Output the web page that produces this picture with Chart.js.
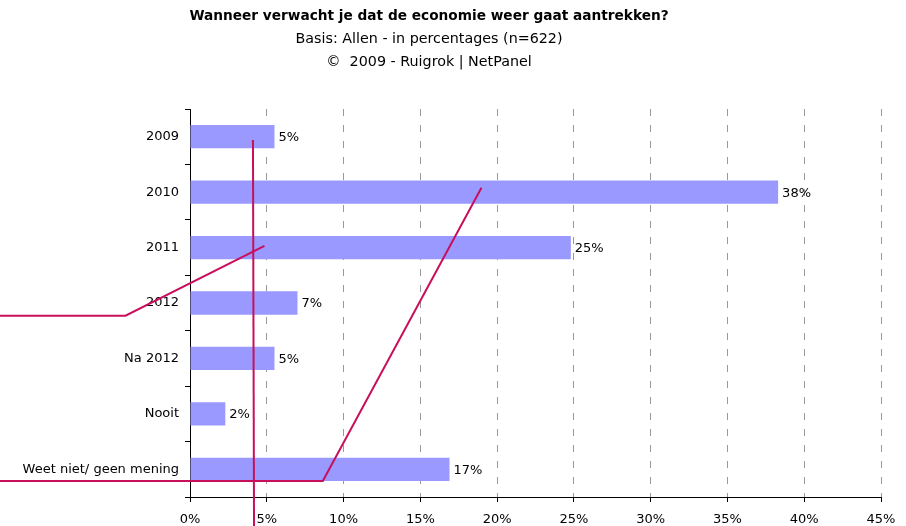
<!DOCTYPE html>
<html>
<head>
<meta charset="utf-8">
<script src="https://cdn.jsdelivr.net/npm/chart.js@4.4.1/dist/chart.umd.min.js"></script>
<style>
    body { margin: 0; background: #fff; }
    canvas { display: block; }
</style>
</head>
<body>
<canvas id="chart" width="906" height="526"></canvas>
<script>
const categories = ['2009', '2010', '2011', '2012', 'Na 2012', 'Nooit', 'Weet niet/ geen mening'];
const values = [5.5, 38.3, 24.8, 7.0, 5.5, 2.3, 16.9];
const valueLabels = ['5%', '38%', '25%', '7%', '5%', '2%', '17%'];
const titleLines = [
    'Wanneer verwacht je dat de economie weer gaat aantrekken?',
    'Basis: Allen - in percentages (n=622)',
    '\u00A9  2009 - Ruigrok | NetPanel'
];

// stray leader lines in the picture, as [percentage, category index] points
const leaderLines = [
    [[4.10, 0.06], [4.17, 7.1]],
    [[4.85, 1.97], [-4.2, 3.23], [-13, 3.23]],
    [[18.98, 0.92], [8.65, 6.21], [-13, 6.21]]
];

const FONT = '"DejaVu Sans", sans-serif';

const titlePlugin = {
    id: 'titleLines',
    afterDraw(chart) {
        const ctx = chart.ctx;
        ctx.save();
        ctx.fillStyle = '#000';
        ctx.textAlign = 'center';
        ctx.textBaseline = 'alphabetic';
        const ys = [20, 43, 66];
        titleLines.forEach((line, i) => {
            ctx.font = (i === 0 ? 'bold 13.7px ' : '14.3px ') + FONT;
            ctx.fillText(line, 429, ys[i]);
        });
        ctx.restore();
    }
};

const valueLabelPlugin = {
    id: 'valueLabels',
    afterDatasetsDraw(chart) {
        const ctx = chart.ctx;
        const meta = chart.getDatasetMeta(0);
        ctx.save();
        ctx.font = '13px ' + FONT;
        ctx.fillStyle = '#000';
        ctx.textAlign = 'left';
        ctx.textBaseline = 'middle';
        meta.data.forEach((bar, i) => {
            ctx.fillText(valueLabels[i], bar.x + 4, bar.y + 1);
        });
        ctx.restore();
    }
};

const leaderPlugin = {
    id: 'leaderLines',
    afterDraw(chart) {
        const ctx = chart.ctx;
        const xs = chart.scales.x;
        const ys = chart.scales.y;
        ctx.save();
        ctx.strokeStyle = '#c8105a';
        ctx.lineWidth = 2;
        for (const line of leaderLines) {
            ctx.beginPath();
            line.forEach((p, i) => {
                const px = xs.getPixelForValue(p[0]);
                const py = ys.getPixelForValue(p[1]);
                if (i === 0) ctx.moveTo(px, py); else ctx.lineTo(px, py);
            });
            ctx.stroke();
        }
        ctx.restore();
    }
};

new Chart(document.getElementById('chart').getContext('2d'), {
    type: 'bar',
    data: {
        labels: categories,
        datasets: [{
            data: values,
            backgroundColor: '#9999ff',
            borderWidth: 0,
            barPercentage: 0.42,
            categoryPercentage: 1
        }]
    },
    options: {
        indexAxis: 'y',
        responsive: false,
        animation: false,
        devicePixelRatio: 1,
        layout: {
            padding: { top: 109, right: 25, bottom: 0, left: 0 }
        },
        plugins: {
            legend: { display: false },
            tooltip: { enabled: false }
        },
        scales: {
            x: {
                min: 0,
                max: 45,
                afterFit: s => { s.height = 29; },
                ticks: {
                    stepSize: 5,
                    padding: 10,
                    color: '#000',
                    font: { family: FONT, size: 13 },
                    callback: v => v + '%'
                },
                grid: {
                    color: '#999',
                    tickColor: '#000',
                    tickLength: 5
                },
                border: { color: '#000', dash: [7, 9] }
            },
            y: {
                afterFit: s => { s.width = 190; },
                ticks: {
                    padding: 6,
                    color: '#000',
                    font: { family: FONT, size: 13 }
                },
                grid: {
                    offset: true,
                    drawOnChartArea: false,
                    tickColor: '#000',
                    tickLength: 5
                },
                border: { color: '#000' }
            }
        }
    },
    plugins: [titlePlugin, valueLabelPlugin, leaderPlugin]
});
</script>
</body>
</html>
